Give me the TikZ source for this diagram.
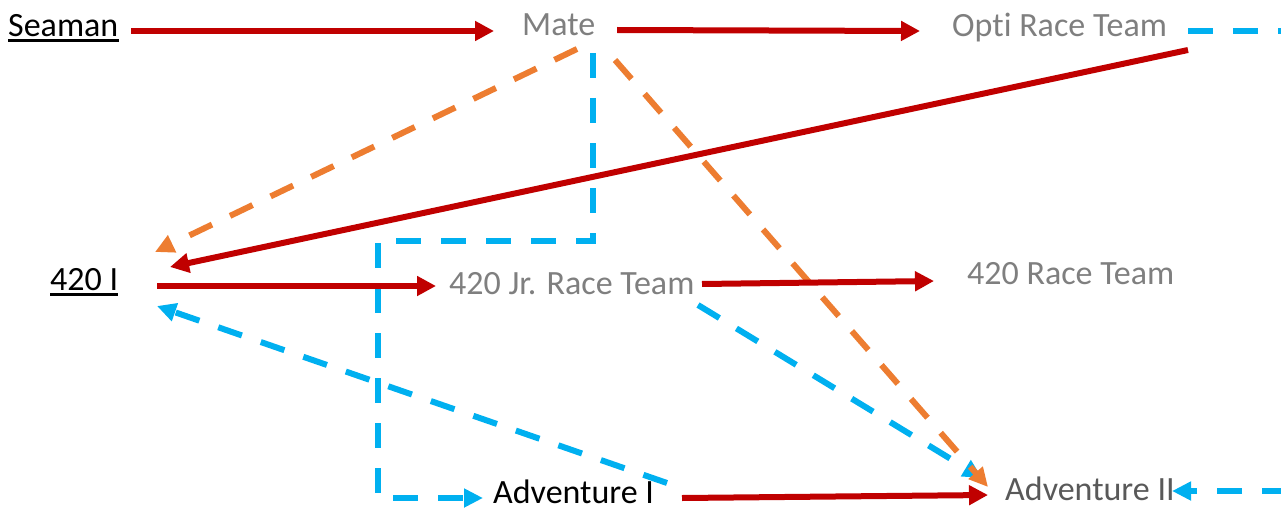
\documentclass[tikz,border=0pt]{standalone}
\usepackage{fontspec}
\setmainfont{Carlito}[Ligatures={NoCommon,NoContextual}]
\usetikzlibrary{arrows.meta,calc}
\definecolor{cred}{HTML}{C00000}
\definecolor{cblue}{HTML}{00B0F0}
\definecolor{corange}{HTML}{ED7D31}
\definecolor{cgray}{HTML}{7F7F7F}
\definecolor{cdgray}{HTML}{595959}
\begin{document}
\begin{tikzpicture}[x=1pt,y=-1pt,
  lbl/.style={anchor=base west,inner sep=0pt,font=\fontsize{34}{40}\selectfont},
  redarrow/.style={draw=cred,line width=6pt,-{Triangle[length=19pt,width=19pt]}},
  bluedash/.style={draw=cblue,line width=6pt,dash pattern=on 25pt off 20pt,-{Triangle[length=19pt,width=18pt]}},
  orangedash/.style={draw=corange,line width=6pt,dash pattern=on 25pt off 20pt,-{Triangle[length=19pt,width=18pt]}},
  uline/.style={draw=black,line width=3pt}
]
\useasboundingbox (0,0) rectangle (1281,508);
\clip (0,0) rectangle (1281,508);

% nodes
\node[lbl,text=black] (seaman) at (8,37) {Seaman};
\node[lbl,text=cgray] (mate) at (522,36) {Mate};
\node[lbl,text=cgray] (opti) at (952,37) {Opti Race Team};
\node[lbl,text=black] (four) at (50,290) {420 I};
\node[lbl,text=cgray] (jr) at (449,294) {420 Jr. Race Team};
\node[lbl,text=cgray] (race) at (967,284) {420 Race Team};
\node[lbl,text=black] (adv1) at (493,503) {Adventure I};
\node[lbl,text=cdgray] (adv2) at (1005,500) {Adventure II};

% underlines
\draw[uline] ($(seaman.base west)+(0,3.5)$) -- ($(seaman.base east)+(0,3.5)$);
\draw[uline] ($(four.base west)+(0,4.5)$) -- ($(four.base east)+(0,4.5)$);

% blue dashed connectors
\draw[bluedash] ($(mate.base west)+(71,17)$) -- (593,241) -- (378,241) -- (378,498) -- ($(adv1.base west)+(-10,-5)$);
\draw[bluedash] ($(opti.base west)+(236,-6)$) -- (1300,31) -- (1300,491) -- ($(adv2.base west)+(167,-9)$);
\draw[bluedash] ($(jr.base west)+(249,11)$) -- ($(adv2.base west)+(-23,-22)$);
\draw[bluedash] ($(adv1.base west)+(174,-20)$) -- ($(four.base west)+(107,16)$);

% orange dashed connectors
\draw[orangedash] ($(mate.base west)+(55,13)$) -- ($(four.base west)+(105,-38)$);
\draw[orangedash] ($(mate.base west)+(93,24)$) -- ($(adv2.base west)+(-17,-13)$);

% red connectors
\draw[redarrow] ($(seaman.base west)+(123,-6)$) -- ($(mate.base west)+(-28,-5)$);
\draw[redarrow] ($(mate.base west)+(95,-6)$) -- ($(opti.base west)+(-32,-6)$);
\draw[redarrow] ($(opti.base west)+(236,13)$) -- ($(four.base west)+(120,-23)$);
\draw[redarrow] ($(four.base west)+(107,-4)$) -- ($(jr.base west)+(-13,-8)$);
\draw[redarrow] ($(jr.base west)+(253,-10)$) -- ($(race.base west)+(-33,-3)$);
\draw[redarrow] ($(adv1.base west)+(189,-5)$) -- ($(adv2.base west)+(-17,-5)$);
\end{tikzpicture}
\end{document}
